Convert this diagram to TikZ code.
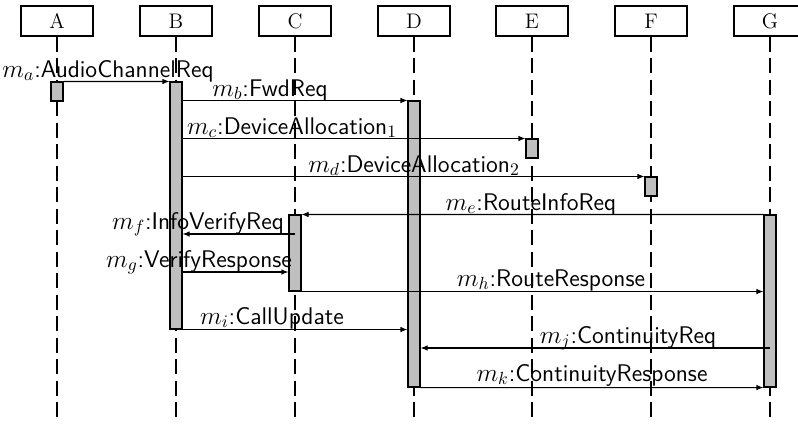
\documentclass[tikz,border=0pt]{standalone}
\usetikzlibrary{arrows.meta}
\begin{document}
\begin{tikzpicture}[x=0.2mm,y=-0.2mm,
  actor/.style={draw, line width=0.6pt, minimum width=14.4mm, minimum height=6mm, inner sep=0, font=\large},
  bar/.style={draw, fill=gray!50, line width=0.6pt, minimum width=2.4mm, inner sep=0},
  lifeline/.style={dash pattern=on 3mm off 1.3mm, line width=0.6pt},
  msg/.style={-{Latex[length=1.4mm,width=1.1mm]}, line width=0.6pt},
  lbl/.style={anchor=base, font=\sffamily\fontsize{13.7pt}{16pt}\selectfont, inner sep=0}
]
\useasboundingbox (0,0) rectangle (798,423);

% participants
\foreach \n/\x in {A/57,B/176,C/295,D/414,E/532,F/651,G/770}{
  \node[actor] (h\n) at (\x,21) {\n};
  \coordinate (end\n) at (\x,423);
  \draw[lifeline] (h\n.south) -- (end\n);
}

% activation bars
\node[bar, minimum height=3.8mm]  (barA) at (57,91.5)  {};
\node[bar, minimum height=49.4mm] (barB) at (176,205.5) {};
\node[bar, minimum height=57.2mm] (barD) at (414,244)  {};
\node[bar, minimum height=3.8mm]  (barE) at (532,148.5) {};
\node[bar, minimum height=3.8mm]  (barF) at (651,186.5) {};
\node[bar, minimum height=15.2mm] (barC) at (295,253)  {};
\node[bar, minimum height=34.4mm] (barG) at (770,301)  {};

% free message ends
\coordinate (cf) at (295,234);
\coordinate (bg) at (182,272);
\coordinate (gj) at (770,348);

% messages
\draw[msg] (barA.north east) -- (barB.north west);
\node[lbl] at (108,77) {$m_a$:AudioChannelReq};

\draw[msg] (barB.east |- barD.north) -- (barD.north west);
\node[lbl] at (270,96) {$m_b$:FwdReq};

\draw[msg] (barB.east |- barE.north) -- (barE.north west);
\node[lbl] at (292,134) {$m_c$:DeviceAllocation$_1$};

\draw[msg] (barB.east |- barF.north) -- (barF.north west);
\node[lbl] at (414,172) {$m_d$:DeviceAllocation$_2$};

\draw[msg] (barG.north west) -- (barC.north east);
\node[lbl] at (531,210) {$m_e$:RouteInfoReq};

\draw[msg] (cf) -- (barB.east |- cf);
\node[lbl] at (198,229) {$m_f$:InfoVerifyReq};

\draw[msg] (bg) -- (barC.west |- bg);
\node[lbl] at (199,267) {$m_g$:VerifyResponse};

\draw[msg] (barC.south east) -- (barG.west |- barC.south);
\node[lbl] at (551,286) {$m_h$:RouteResponse};

\draw[msg] (barB.south east) -- (barD.west |- barB.south);
\node[lbl] at (272,324) {$m_i$:CallUpdate};

\draw[msg] (gj) -- (barD.east |- gj);
\node[lbl] at (628,343) {$m_j$:ContinuityReq};

\draw[msg] (barD.south east) -- (barG.south west);
\node[lbl] at (592,381) {$m_k$:ContinuityResponse};
\end{tikzpicture}
\end{document}
